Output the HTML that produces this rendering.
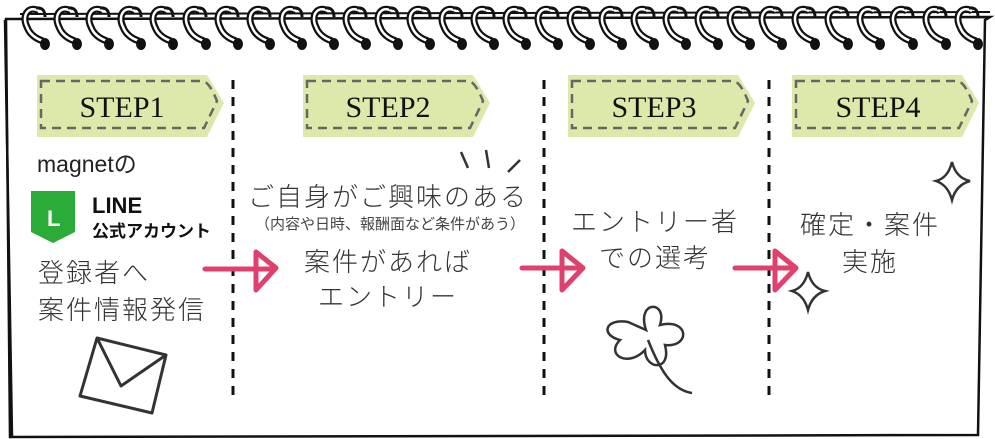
<!DOCTYPE html><html><head><meta charset="utf-8"><style>
body{margin:0;width:995px;height:439px;overflow:hidden;background:#fff}
svg{display:block}
text{font-family:"Liberation Sans","Noto Sans CJK JP",sans-serif;fill:#222}
.s{font-family:"Liberation Serif","Noto Serif CJK SC",serif;font-size:30px;fill:#111}
.j{font-size:26px;fill:#333;font-weight:300;letter-spacing:2px}
</style></head><body>
<svg width="995" height="439" viewBox="0 0 995 439">
<path d="M6 19 L990 17 L985 20 L978 435 L10 437 L6 19 Z" fill="#fff" stroke="#111" stroke-width="2.5"/>
<path d="M5 20 Q8 200 12 437" fill="none" stroke="#111" stroke-width="2.5"/>
<line x1="20" y1="14" x2="990" y2="12" stroke="#111" stroke-width="2"/>
<g>
<defs><g id="ring"><path d="M14 6 C4 0 -4 10 2 22 C5 30 12 34 18 36" fill="none" stroke="#111" stroke-width="7"/><path d="M14 6 C4 0 -4 10 2 22 C5 30 12 34 18 36" fill="none" stroke="#fff" stroke-width="2.5"/><ellipse cx="20" cy="39" rx="5" ry="6" fill="#111"/><path d="M11 3 Q20 2 20 12" fill="none" stroke="#111" stroke-width="3"/></g></defs>
<use href="#ring" x="25" y="5"/><use href="#ring" x="57" y="5"/><use href="#ring" x="89" y="5"/><use href="#ring" x="121" y="5"/><use href="#ring" x="153" y="5"/><use href="#ring" x="186" y="5"/><use href="#ring" x="218" y="5"/><use href="#ring" x="250" y="5"/><use href="#ring" x="282" y="5"/><use href="#ring" x="314" y="5"/><use href="#ring" x="346" y="5"/><use href="#ring" x="378" y="5"/><use href="#ring" x="410" y="5"/><use href="#ring" x="442" y="5"/><use href="#ring" x="474" y="5"/><use href="#ring" x="506" y="5"/><use href="#ring" x="538" y="5"/><use href="#ring" x="570" y="5"/><use href="#ring" x="602" y="5"/><use href="#ring" x="634" y="5"/><use href="#ring" x="666" y="5"/><use href="#ring" x="698" y="5"/><use href="#ring" x="730" y="5"/><use href="#ring" x="762" y="5"/><use href="#ring" x="795" y="5"/><use href="#ring" x="828" y="5"/><use href="#ring" x="860" y="5"/><use href="#ring" x="893" y="5"/><use href="#ring" x="926" y="5"/><use href="#ring" x="958" y="5"/>
</g>
<defs><g id="tab"><path d="M0 0 H170 L187 28 L170 62 H0 Z" fill="#dde9aa"/><path d="M4 6 H165 Q172 6 180 26 L167 53 H4 Z" fill="none" stroke="#666" stroke-width="2.5" stroke-dasharray="9 6"/></g></defs>
<use href="#tab" x="37" y="75"/><use href="#tab" x="303" y="75"/><use href="#tab" x="568" y="75"/><use href="#tab" x="792" y="75"/>
<text class="s" x="122" y="117" text-anchor="middle">STEP1</text>
<text class="s" x="388" y="117" text-anchor="middle">STEP2</text>
<text class="s" x="654" y="117" text-anchor="middle">STEP3</text>
<text class="s" x="878" y="117" text-anchor="middle">STEP4</text>
<g stroke="#111" stroke-width="3" stroke-dasharray="9 8"><line x1="233" y1="80" x2="233" y2="400"/><line x1="544" y1="80" x2="544" y2="400"/><line x1="769" y1="80" x2="769" y2="400"/></g>
<text x="37" y="172" font-size="23">magnetの</text>
<path d="M31 191 H75 V232 L53 243 L31 232 Z" fill="#2bac38"/>
<text x="47" y="226" font-size="22" font-weight="bold" style="fill:#fff">L</text>
<text x="92" y="213" font-size="22" font-weight="bold" style="fill:#111">LINE</text>
<text x="92" y="237" font-size="17" font-weight="bold" style="fill:#111">公式アカウント</text>
<text class="j" x="38" y="282">登録者へ</text>
<text class="j" x="38" y="319">案件情報発信</text>
<path d="M97 338 L166 355 L152 413 L80 396 Z M97 338 L121 386 L166 355" fill="none" stroke="#333" stroke-width="3" stroke-linejoin="round"/>
<g stroke="#333" stroke-width="2.5" fill="none"><line x1="461" y1="152" x2="468" y2="168"/><line x1="486" y1="150" x2="489" y2="168"/><line x1="520" y1="160" x2="508" y2="172"/></g>
<text class="j" x="388" y="206" text-anchor="middle">ご自身がご興味のある</text>
<text x="390" y="229" font-size="15" text-anchor="middle" style="fill:#444">（内容や日時、報酬面など条件があう）</text>
<text class="j" x="388" y="271" text-anchor="middle">案件があれば</text>
<text class="j" x="388" y="306" text-anchor="middle">エントリー</text>
<text class="j" x="655" y="231" text-anchor="middle">エントリー者</text>
<text class="j" x="655" y="267" text-anchor="middle">での選考</text>
<text class="j" x="870" y="234" text-anchor="middle">確定・案件</text>
<text class="j" x="870" y="271" text-anchor="middle">実施</text>
<g fill="none" stroke="#e0406e" stroke-width="5" stroke-linecap="round" stroke-linejoin="round">
<path d="M205 269 H275 M256 252 L276 268 L256 290 Z"/>
<path d="M522 268 H583 M562 251 L583 268 L562 290 Z"/>
<path d="M735 268 H795 M775 251 L796 268 L775 290 Z"/>
</g>
<g fill="none" stroke="#333" stroke-width="2.5">
<path d="M952 162 Q956 178 970 181 Q956 185 952 200 Q948 185 936 181 Q948 178 952 162 Z"/>
<path d="M808 272 Q812 288 825 291 Q812 295 808 310 Q804 295 792 291 Q804 288 808 272 Z"/>
<path d="M646 330 C636 300 668 300 660 325 C690 318 690 348 665 345 C672 372 645 370 645 350 C628 368 605 355 620 340 C600 335 605 318 628 322 Z M648 340 C660 370 672 390 692 393"/>
</g>
</svg>
</body></html>
